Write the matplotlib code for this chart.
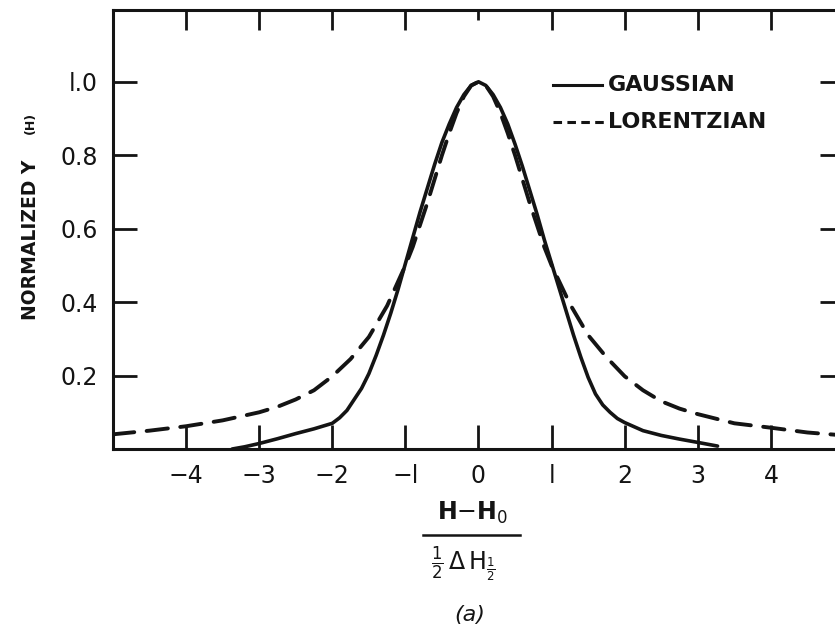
import numpy as np
import matplotlib
matplotlib.use('Agg')
import matplotlib.pyplot as plt
from matplotlib.lines import Line2D

plt.rcParams['font.family'] = ['DejaVu Sans']
plt.rcParams['mathtext.fontset'] = 'dejavusans'

# values
gauss_x = [-3.37, -3.2, -3.0, -2.75, -2.5, -2.25, -2.0, -1.9, -1.8, -1.7, -1.6, -1.5,
           -1.4, -1.3, -1.2, -1.1, -1.0, -0.9, -0.8, -0.7, -0.6, -0.5, -0.4, -0.3,
           -0.2, -0.1, 0.0, 0.1, 0.2, 0.3, 0.4, 0.5, 0.6, 0.7, 0.8, 0.9, 1.0, 1.1,
           1.2, 1.3, 1.4, 1.5, 1.6, 1.7, 1.8, 1.9, 2.0, 2.25, 2.5, 2.75, 3.0, 3.27]
gauss_y = [0.0, 0.006, 0.015, 0.028, 0.042, 0.055, 0.07, 0.085, 0.105, 0.135, 0.165, 0.205,
           0.255, 0.31, 0.37, 0.435, 0.505, 0.575, 0.645, 0.71, 0.775, 0.835, 0.885, 0.93,
           0.965, 0.99, 1.0, 0.99, 0.965, 0.93, 0.885, 0.83, 0.77, 0.705, 0.64, 0.57, 0.505, 0.44,
           0.375, 0.31, 0.25, 0.195, 0.15, 0.12, 0.1, 0.083, 0.072, 0.05, 0.037, 0.027, 0.018, 0.008]

lor_x = [-5.0, -4.5, -4.0, -3.5, -3.0, -2.75, -2.5, -2.25, -2.0, -1.75, -1.5, -1.25, -1.0,
         -0.9, -0.8, -0.7, -0.6, -0.5, -0.4, -0.3, -0.2, -0.1, 0.0, 0.1, 0.2, 0.3, 0.4,
         0.5, 0.6, 0.7, 0.8, 0.9, 1.0, 1.25, 1.5, 1.75, 2.0,
         2.25, 2.5, 2.75, 3.0, 3.5, 4.0, 4.5, 5.0]
lor_y = [0.040, 0.05, 0.062, 0.078, 0.10, 0.115, 0.135, 0.16, 0.198, 0.245, 0.305, 0.39, 0.50,
         0.55, 0.61, 0.67, 0.735, 0.80, 0.86, 0.915, 0.96, 0.99, 1.0, 0.99, 0.96, 0.915, 0.86,
         0.80, 0.735, 0.67, 0.61, 0.55, 0.50, 0.395, 0.31, 0.25, 0.198,
         0.16, 0.13, 0.11, 0.095, 0.07, 0.058, 0.045, 0.037]

xticks = [-4, -3, -2, -1, 0, 1, 2, 3, 4]
xticklabels = ['\u22124', '\u22123', '\u22122', '\u2212l', '0', 'l', '2', '3', '4']
yticks = [0.2, 0.4, 0.6, 0.8, 1.0]
yticklabels = ['0.2', '0.4', '0.6', '0.8', 'l.0']

ink = '#141414'

fig = plt.figure(figsize=(8.35, 6.36), dpi=100)
ax = fig.add_axes([0.1353, 0.294, 0.8755, 0.690])

ax.plot(gauss_x, gauss_y, color=ink, lw=2.6, solid_capstyle='round', solid_joinstyle='round')
ax.plot(lor_x, lor_y, color=ink, lw=2.8, linestyle=(0, (5.5, 3.2)), dash_capstyle='round')

ax.set_xlim(-5, 5)
ax.set_ylim(0, 1.195)

for s in ax.spines.values():
    s.set_linewidth(2.2)
    s.set_color(ink)

ax.set_xticks(xticks)
ax.set_xticklabels(xticklabels)
ax.set_yticks(yticks)
ax.set_yticklabels(yticklabels)
ax.tick_params(axis='both', direction='in', length=17, width=2.0, color=ink,
               labelsize=17, labelcolor=ink, pad=11)
ax.tick_params(axis='x', top=True)
ax.tick_params(axis='y', right=True)

# top ticks a bit shorter, the one at zero shortest
for i, t in enumerate(ax.xaxis.get_major_ticks()):
    t.tick2line.set_markersize(7.5 if xticks[i] == 0 else 14.5)

# legend drawn like the original lettering
ax.add_line(Line2D([0.602, 0.669], [0.829, 0.829], transform=ax.transAxes, color=ink, lw=2.2))
ax.text(0.677, 0.829, 'GAUSSIAN', transform=ax.transAxes, fontsize=16, fontweight='bold',
        color=ink, va='center', ha='left')
ax.add_line(Line2D([0.602, 0.672], [0.745, 0.745], transform=ax.transAxes, color=ink, lw=2.2,
                   linestyle=(0, (2.8, 1.75))))
ax.text(0.677, 0.745, 'LORENTZIAN', transform=ax.transAxes, fontsize=16, fontweight='bold',
        color=ink, va='center', ha='left')

# y label
fig.text(0.036, 0.623, 'NORMALIZED Y', rotation=90, fontsize=13.5, fontweight='bold',
         color=ink, ha='center', va='center')
fig.text(0.036, 0.806, '(H)', rotation=90, fontsize=9, fontweight='bold',
         color=ink, ha='center', va='center')

# x label as a fraction
fig.text(0.566, 0.193, r'H$-$H$_{\mathrm{0}}$', fontsize=17, fontweight='bold', color=ink,
         ha='center', va='center')
fig.add_artist(Line2D([0.507, 0.623], [0.159, 0.159], transform=fig.transFigure,
                      color=ink, lw=1.8))
fig.text(0.555, 0.113, r'$\frac{1}{2}\,\Delta\,\mathrm{H}_{\frac{1}{2}}$', fontsize=17,
         color=ink, ha='center', va='center')
fig.text(0.563, 0.033, '(a)', fontsize=16, style='italic', color=ink, ha='center', va='center')

plt.savefig('out.png', dpi=100)
